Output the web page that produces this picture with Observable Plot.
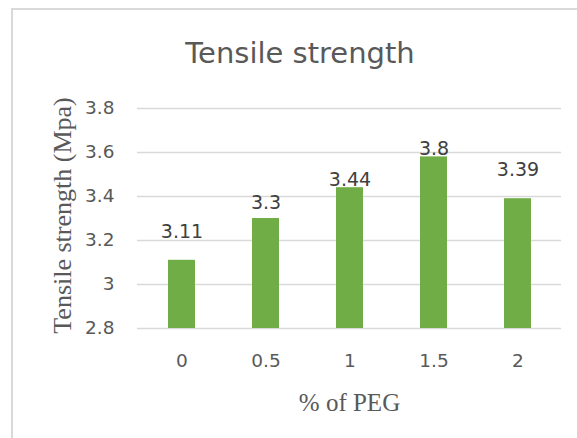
<!DOCTYPE html>
<html><head><meta charset="utf-8">
<script src="https://cdn.jsdelivr.net/npm/d3@7"></script>
<script src="https://cdn.jsdelivr.net/npm/@observablehq/plot@0.6"></script>
<style>
body{margin:0;background:#fff;}
#wrap{position:relative;width:577px;height:438px;overflow:hidden;background:#fff;}
#frame{position:absolute;left:11px;top:8px;width:600px;height:500px;border-left:2px solid #d9d9d9;border-top:2px solid #d9d9d9;}
#title{position:absolute;left:0;width:600px;top:39px;text-align:center;font:29px/29px "DejaVu Sans";color:#595959;white-space:nowrap;}
#chart{position:absolute;left:0;top:80px;}
</style></head><body>
<div id="wrap"><div id="frame"></div><div id="title">Tensile strength</div><div id="chart"></div></div>
<script>
const pegLevels = ["0", "0.5", "1", "1.5", "2"];
const strength = [3.11, 3.30, 3.44, 3.58, 3.39];
const dataLabels = ["3.11", "3.3", "3.44", "3.8", "3.39"];
const yTicks = [2.8, 3.0, 3.2, 3.4, 3.6, 3.8];

const rows = pegLevels.map((p, i) => ({peg: p, value: strength[i], label: dataLabels[i]}));
const labelLift = [28, 16, 8, 8, 29];

const chart = Plot.plot({
  width: 577, height: 358,
  marginLeft: 137, marginRight: 16, marginTop: 28, marginBottom: 110,
  style: {fontFamily: "DejaVu Sans", background: "transparent"},
  x: {type: "band", domain: pegLevels, paddingInner: 0.68, paddingOuter: 0.34},
  y: {domain: [2.8, 3.8]},
  marks: [
    Plot.gridY(yTicks, {stroke: "#d9d9d9", strokeOpacity: 1, strokeWidth: 1.3}),
    Plot.barY(rows, {x: "peg", y1: 2.8, y2: "value", fill: "#70AD47"}),
    ...rows.map((r, i) => Plot.text([r], {x: "peg", y: "value", text: "label", dy: -labelLift[i], fontSize: 19, fill: "#404040", lineAnchor: "middle"})),
    Plot.axisX({tickSize: 0, tickPadding: 25, fontSize: 18.5, color: "#595959", label: null}),
    Plot.axisY(yTicks, {tickSize: 0, tickPadding: 23, fontSize: 18.5, color: "#595959", label: null, tickFormat: d => String(d)}),
    Plot.text(["Tensile strength (Mpa)"], {frameAnchor: "left", dx: -75, dy: -3, rotate: -90, fontSize: 26, fontFamily: "Liberation Serif", fill: "#595959", textAnchor: "middle", lineAnchor: "middle"}),
    Plot.text(["% of PEG"], {frameAnchor: "bottom", dy: 74, fontSize: 25, fontFamily: "Liberation Serif", fill: "#595959", textAnchor: "middle", lineAnchor: "middle"})
  ]
});
document.getElementById("chart").appendChild(chart);
</script>
</body></html>
